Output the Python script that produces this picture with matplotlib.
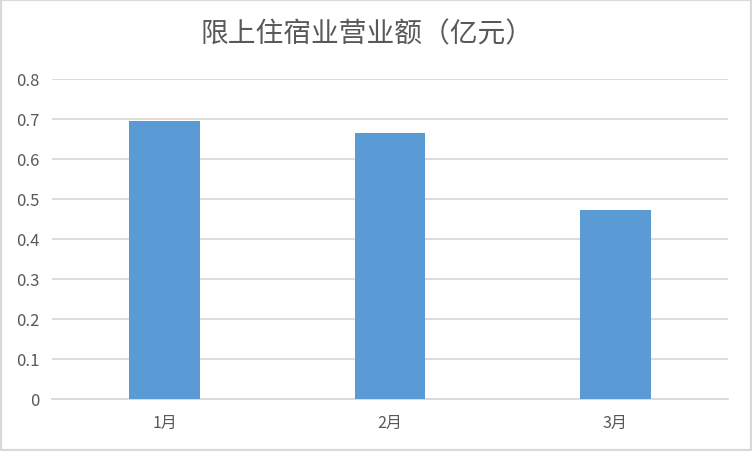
import matplotlib
matplotlib.use("Agg")
import matplotlib.pyplot as plt
from matplotlib.patches import Rectangle

plt.rcParams['font.family'] = ['Noto Sans CJK SC', 'DejaVu Sans']

categories = ['1月', '2月', '3月']
values = [0.695, 0.665, 0.472]
yticks = [0, 0.1, 0.2, 0.3, 0.4, 0.5, 0.6, 0.7, 0.8]
ytick_labels = ['0', '0.1', '0.2', '0.3', '0.4', '0.5', '0.6', '0.7', '0.8']
title = '限上住宿业营业额（亿元）'

W, H = 752, 452
fig = plt.figure(figsize=(W/100, H/100), dpi=100)
ax = fig.add_axes([52/W, (H-400)/H, (728-52)/W, (400-80)/H])

x = list(range(len(categories)))
ax.bar(x, values, width=0.315, color='#5B9BD5', zorder=3)
ax.set_xlim(-0.5, len(categories)-0.5)
ax.set_ylim(0, 0.8)
ax.set_yticks(yticks)
ax.set_yticklabels(ytick_labels)
ax.set_xticks(x)
ax.set_xticklabels(categories)
ax.grid(axis='y', color='#D9D9D9', linewidth=1.3, zorder=0)
for s in ['top', 'right', 'left']:
    ax.spines[s].set_visible(False)
ax.spines['bottom'].set_color('#D9D9D9')
ax.spines['bottom'].set_linewidth(1.3)
ax.tick_params(axis='both', length=0, colors='#595959', labelsize=12)
ax.tick_params(axis='y', pad=9)
ax.tick_params(axis='x', labelsize=11.5, pad=11)

fig.text(367/W, 1-34/H, title, ha='center', va='center', fontsize=20, color='#595959')

fig.patches.append(Rectangle((1/W, 1/H), 1-2/W, 1-2/H, transform=fig.transFigure,
                             fill=False, edgecolor='#D9D9D9', linewidth=1.6))

fig.savefig('out.png', dpi=100)
